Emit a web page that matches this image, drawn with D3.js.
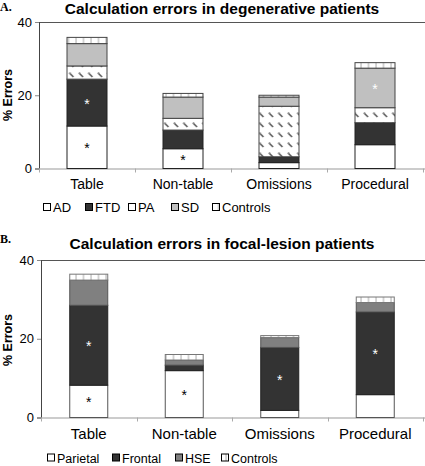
<!DOCTYPE html>
<html><head><meta charset="utf-8">
<script src="https://cdn.jsdelivr.net/npm/d3@7"></script>
<style>body{margin:0;background:#fff}svg{display:block}</style>
</head><body>
<svg id="c" width="425" height="466"></svg>
<script>
const categories = ["Table", "Non-table", "Omissions", "Procedural"];
const yTicks = [0, 20, 40];

const seriesA = ["AD", "FTD", "PA", "SD", "Controls"];
const AD = [11.6, 5.4, 1.6, 6.5];
const FTD = [12.8, 5.1, 1.6, 6.0];
const PA = [3.6, 3.2, 13.8, 4.1];
const SD = [6.1, 5.8, 2.5, 10.8];
const ControlsA = [1.7, 1.0, 0.5, 1.5];
// asterisks: [series, category, colour]
const starsA = [["AD", 0, "#000"], ["FTD", 0, "#fff"], ["AD", 1, "#000"], ["SD", 3, "#fff"]];

const seriesB = ["Parietal", "Frontal", "HSE", "Controls"];
const Parietal = [8.2, 11.9, 1.8, 5.8];
const Frontal = [20.3, 1.4, 16.0, 21.0];
const HSE = [6.4, 1.3, 2.5, 2.4];
const ControlsB = [1.5, 1.4, 0.5, 1.4];
const starsB = [["Parietal", 0, "#000"], ["Frontal", 0, "#fff"], ["Parietal", 1, "#000"], ["Frontal", 2, "#fff"], ["Frontal", 3, "#fff"]];

const svg = d3.select("#c");
const FONT = "'Liberation Sans', Arial, sans-serif";

const defs = svg.append("defs");
const pPA = defs.append("pattern").attr("id", "pa").attr("patternUnits", "userSpaceOnUse")
  .attr("width", 9.5).attr("height", 10).attr("x", 1).attr("y", 0);
pPA.append("rect").attr("width", 10).attr("height", 10).attr("fill", "#fff");
pPA.append("path").attr("d", "M2,3 L6,7").attr("stroke", "#555").attr("stroke-width", 1.6);
pPA.append("circle").attr("cx", 2.5).attr("cy", 3.3).attr("r", 1).attr("fill", "#888");
const pC = defs.append("pattern").attr("id", "ctrl").attr("patternUnits", "userSpaceOnUse")
  .attr("width", 7.5).attr("height", 6);
pC.append("rect").attr("width", 8).attr("height", 6).attr("fill", "#fff");
pC.append("line").attr("x1", 1).attr("x2", 1).attr("y1", 0).attr("y2", 6).attr("stroke", "#aaa").attr("stroke-width", 1);

function panel(o) {
  const g = svg.append("g");
  const x = d3.scaleBand().domain(categories).range([o.x0, o.x1]).paddingInner(0).paddingOuter(0);
  const y = d3.scaleLinear().domain([0, 40]).range([o.y0, o.y1]);
  const data = categories.map((c, i) => {
    const d = {cat: c};
    o.series.forEach((s, k) => d[s] = o.values[k][i]);
    return d;
  });
  const stack = d3.stack().keys(o.series)(data);

  g.append("text").attr("x", 0).attr("y", o.letterY).text(o.letter)
    .attr("font-family", "'Liberation Serif', 'Times New Roman', serif").attr("font-weight", "bold").attr("font-size", 12);
  g.append("text").attr("x", o.titleX).attr("y", o.titleY).attr("text-anchor", "middle")
    .attr("font-family", FONT).attr("font-weight", "bold").attr("font-size", 15.5).text(o.title);
  g.append("line").attr("x1", o.x0).attr("x2", 425).attr("y1", y(40) + 0.5).attr("y2", y(40) + 0.5)
    .attr("stroke", "#555").attr("stroke-width", 1);
  const ya = g.append("g").attr("transform", `translate(${o.x0},0)`)
    .call(d3.axisLeft(y).tickValues(yTicks).tickSize(4).tickPadding(3));
  ya.select(".domain").attr("stroke", "#444");
  ya.selectAll(".tick line").attr("stroke", "#888");
  ya.selectAll("text").attr("font-family", FONT).attr("font-size", 13).attr("fill", "#000");
  g.append("text").attr("transform", `translate(${o.ylabX},${o.ylabY}) rotate(-90)`)
    .attr("text-anchor", "middle").attr("font-family", FONT).attr("font-weight", "bold").attr("font-size", 12.5)
    .text("% Errors");
  const xa = g.append("g").attr("transform", `translate(0,${y(0)})`)
    .call(d3.axisBottom(x).tickSize(0).tickPadding(o.catPad));
  xa.select(".domain").remove();
  g.append("line").attr("x1", o.x0).attr("x2", 425).attr("y1", y(0) + 0.5).attr("y2", y(0) + 0.5).attr("stroke", "#999");
  g.selectAll(".xt").data(categories.concat(["end"])).join("line")
    .attr("x1", (d, i) => Math.round(o.x0 + i * x.bandwidth()) + 0.5)
    .attr("x2", (d, i) => Math.round(o.x0 + i * x.bandwidth()) + 0.5)
    .attr("y1", y(0)).attr("y2", y(0) + 4).attr("stroke", "#aaa");
  xa.selectAll("text").attr("font-family", FONT).attr("font-size", o.catSize).attr("fill", "#000");

  const bw = o.barW;
  stack.forEach((layer, k) => {
    const s = o.series[k];
    g.append("g").selectAll("rect").data(layer).join("rect")
      .attr("x", d => x(d.data.cat) + x.bandwidth() / 2 - bw / 2)
      .attr("y", d => y(d[1]))
      .attr("width", bw)
      .attr("height", d => y(d[0]) - y(d[1]))
      .attr("fill", o.fills[s])
      .attr("stroke", o.strokes[s]).attr("stroke-width", 1);
  });
  o.stars.forEach(([s, i, col]) => {
    const k = o.series.indexOf(s);
    const d = stack[k][i];
    g.append("text").attr("x", x(categories[i]) + x.bandwidth() / 2)
      .attr("y", (y(d[0]) + y(d[1])) / 2 + 6)
      .attr("text-anchor", "middle").attr("font-family", FONT).attr("font-size", 14)
      .attr("fill", col).text("*");
  });
  o.series.forEach((s, k) => {
    const lx = o.legX[k];
    g.append("rect").attr("x", lx + 0.5).attr("y", o.legY - 4.5).attr("width", 7).attr("height", 7)
      .attr("fill", s === "Controls" ? "url(#ctrl)" : (s === "PA" ? "#fff" : o.fills[s])).attr("stroke", "#000");
    g.append("text").attr("x", lx + 10).attr("y", o.legY + 4)
      .attr("font-family", FONT).attr("font-size", o.legSize).text(s);
  });
}

panel({
  letter: "A.", letterY: 11, title: "Calculation errors in degenerative patients", titleX: 222, titleY: 13.5,
  x0: 39, x1: 423, y0: 168.5, y1: 22, ylabX: 12, ylabY: 95, catSize: 14, catPad: 11, barW: 40,
  series: seriesA, values: [AD, FTD, PA, SD, ControlsA],
  fills: {AD: "#fff", FTD: "#333", PA: "url(#pa)", SD: "#c0c0c0", Controls: "url(#ctrl)"},
  strokes: {AD: "#222", FTD: "#222", PA: "#444", SD: "#444", Controls: "#444"},
  stars: starsA, legX: [43, 85, 128, 171, 212], legY: 208, legSize: 13
});
panel({
  letter: "B.", letterY: 243, title: "Calculation errors in focal-lesion patients", titleX: 222, titleY: 249,
  x0: 41, x1: 423, y0: 417.5, y1: 260, ylabX: 12, ylabY: 340, catSize: 15, catPad: 11, barW: 38,
  series: seriesB, values: [Parietal, Frontal, HSE, ControlsB],
  fills: {Parietal: "#fff", Frontal: "#333", HSE: "#808080", Controls: "url(#ctrl)"},
  strokes: {Parietal: "#555", Frontal: "#222", HSE: "#555", Controls: "#777"},
  stars: starsB, legX: [47, 112, 175, 221], legY: 458.5, legSize: 12.5
});
</script>
</body></html>
